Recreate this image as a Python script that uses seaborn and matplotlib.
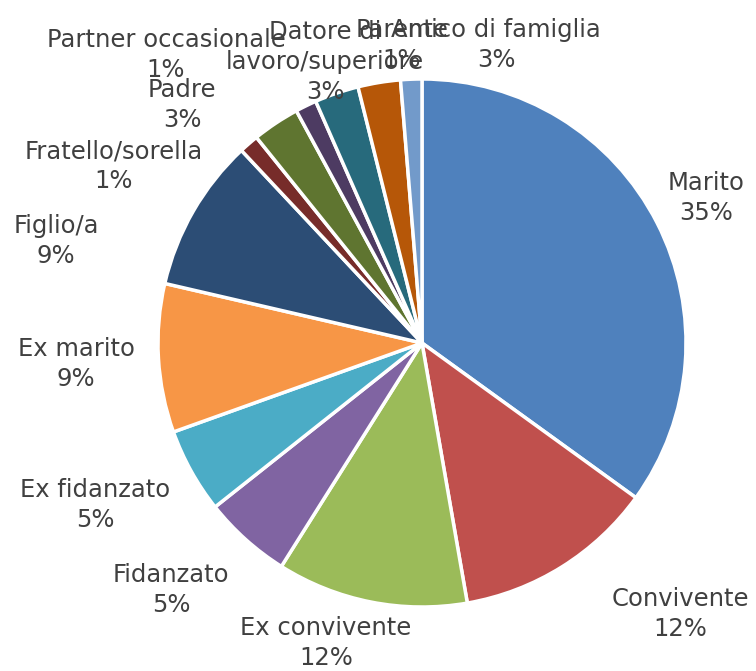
import matplotlib
matplotlib.use("Agg")
import matplotlib.pyplot as plt
import seaborn as sns

# share of cases by relationship with the perpetrator (%)
categories = ["Marito", "Convivente", "Ex convivente", "Fidanzato", "Ex fidanzato",
              "Ex marito", "Figlio/a", "Fratello/sorella", "Padre",
              "Partner occasionale", "Datore di\nlavoro/superiore",
              "Amico di famiglia", "Parente"]
values = [35.0, 12.3, 11.7, 5.4, 5.2, 9.1, 9.4, 1.2, 2.9, 1.3, 2.7, 2.6, 1.3]
colors = ["#4F81BD", "#C0504D", "#9BBB59", "#8064A2", "#4BACC6", "#F79646",
          "#2C4D75", "#772C2A", "#5F7530", "#4D3B62", "#276A7C", "#B65708",
          "#729ACA"]

# label block centres in pixels (layout only)
label_px = [(706, 198), (680, 614), (326, 643), (171, 590), (95, 505),
            (76, 364), (56, 241), (114, 166), (182, 105), (166, 55),
            (325, 62), (496, 45), (402, 45)]

W, H = 756, 671
CX, CY, R = 422, 343, 264

sns.set_style("white")
fig = plt.figure(figsize=(W / 100, H / 100), dpi=100)
ax = fig.add_axes([0, 0, 1, 1])

ax.pie(values, colors=colors, startangle=90, counterclock=False, radius=1,
       wedgeprops=dict(edgecolor="white", linewidth=2.5))

total = sum(values)
for name, v, (px, py) in zip(categories, values, label_px):
    ax.text((px - CX) / R, (CY - py) / R, f"{name}\n{round(v / total * 100)}%",
            ha="center", va="center", fontsize=17.5, color="#404040",
            linespacing=1.3, family="DejaVu Sans")

ax.set_xlim(-CX / R, (W - CX) / R)
ax.set_ylim(-(H - CY) / R, CY / R)
ax.set_aspect("auto")
ax.axis("off")

fig.savefig("out.png", dpi=100, facecolor="white")
